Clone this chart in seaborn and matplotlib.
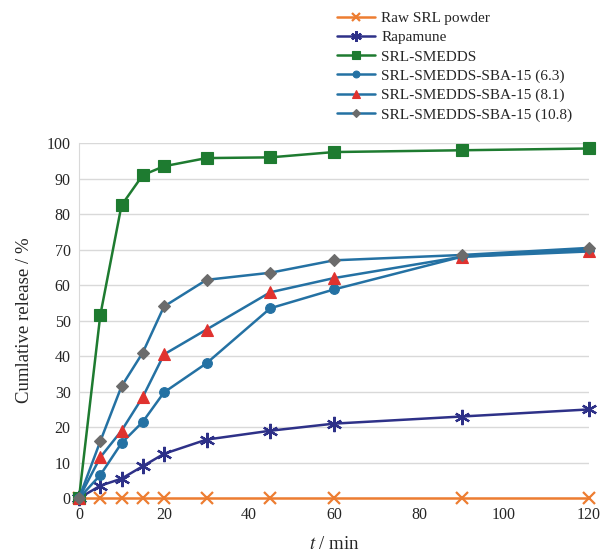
import matplotlib
matplotlib.use("Agg")
import matplotlib.pyplot as plt
import seaborn as sns
import pandas as pd

# Sampling times (min)
time_min = [0, 5, 10, 15, 20, 30, 45, 60, 90, 120]

# Cumulative release (%)
raw_srl = [0, 0, 0, 0, 0, 0, 0, 0, 0, 0]
rapamune = [0, 3.5, 5.5, 9, 12.5, 16.5, 19, 21, 23, 25]
srl_smedds = [0, 51.5, 82.5, 91, 93.5, 95.8, 96, 97.5, 98, 98.5]
sba_63 = [0, 6.5, 15.5, 21.5, 29.8, 38, 53.5, 58.8, 68, 70]
sba_81 = [0, 11.5, 19, 28.5, 40.5, 47.5, 58, 62, 68, 69.5]
sba_108 = [0, 16, 31.5, 41, 54, 61.5, 63.5, 67, 68.5, 70.5]

labels = ["Raw SRL powder", "Rapamune", "SRL-SMEDDS",
          "SRL-SMEDDS-SBA-15 (6.3)", "SRL-SMEDDS-SBA-15 (8.1)",
          "SRL-SMEDDS-SBA-15 (10.8)"]
series = [raw_srl, rapamune, srl_smedds, sba_63, sba_81, sba_108]

df = pd.DataFrame({
    "t": time_min * len(series),
    "release": [v for s in series for v in s],
    "formulation": [lab for lab in labels for _ in time_min],
})

# line colour, marker, marker colour, marker size
styles = {
    "Raw SRL powder": ("#ED7D31", "x", "#ED7D31", 8),
    "Rapamune": ("#2E3188", (6, 2, 0), "#2E3188", 11),
    "SRL-SMEDDS": ("#1E7B30", "s", "#1E7B30", 8),
    "SRL-SMEDDS-SBA-15 (6.3)": ("#2471A3", "o", "#2471A3", 7),
    "SRL-SMEDDS-SBA-15 (8.1)": ("#2471A3", "^", "#E0322F", 8),
    "SRL-SMEDDS-SBA-15 (10.8)": ("#2471A3", "D", "#6B6B6B", 6.5),
}

sns.set_style("white")
plt.rcParams["font.family"] = ["Liberation Serif", "DejaVu Serif"]
plt.rcParams["mathtext.fontset"] = "stix"

fig = plt.figure(figsize=(6.05, 5.56), dpi=100)
ax = fig.add_axes([0.1306, 0.104, 0.843, 0.6385])

for lab in labels:
    lc, mk, mc, ms = styles[lab]
    sub = df[df["formulation"] == lab]
    sns.lineplot(data=sub, x="t", y="release", ax=ax, color=lc, marker=mk,
                 markersize=ms, markerfacecolor=mc, markeredgecolor=mc,
                 markeredgewidth=1.6 if mk in ("x", (6, 2, 0)) else 0.8,
                 linewidth=1.8, label=lab, clip_on=False, zorder=3)

ax.set_xlim(0, 120)
ax.set_ylim(0, 100)
ax.set_xticks(range(0, 121, 20))
ax.set_yticks(range(0, 101, 10))
ax.yaxis.grid(True, color="#D9D9D9", linewidth=1.0)
ax.xaxis.grid(False)
for side in ["top", "right", "bottom"]:
    ax.spines[side].set_visible(False)
ax.spines["left"].set_color("#D9D9D9")
ax.tick_params(axis="both", labelsize=11.5, length=0, pad=6)

ax.set_ylabel("Cumlative release / %", fontsize=13.5, labelpad=10)
ax.set_xlabel("$\\it{t}$ / min", fontsize=13.5, labelpad=10)

ax.legend(loc="upper left", bbox_to_anchor=(0.494, 1.388), frameon=False,
          fontsize=11, handlelength=2.5, handletextpad=0.4,
          labelspacing=0.36, borderaxespad=0, markerscale=0.7)

plt.savefig("out.png", dpi=100)
